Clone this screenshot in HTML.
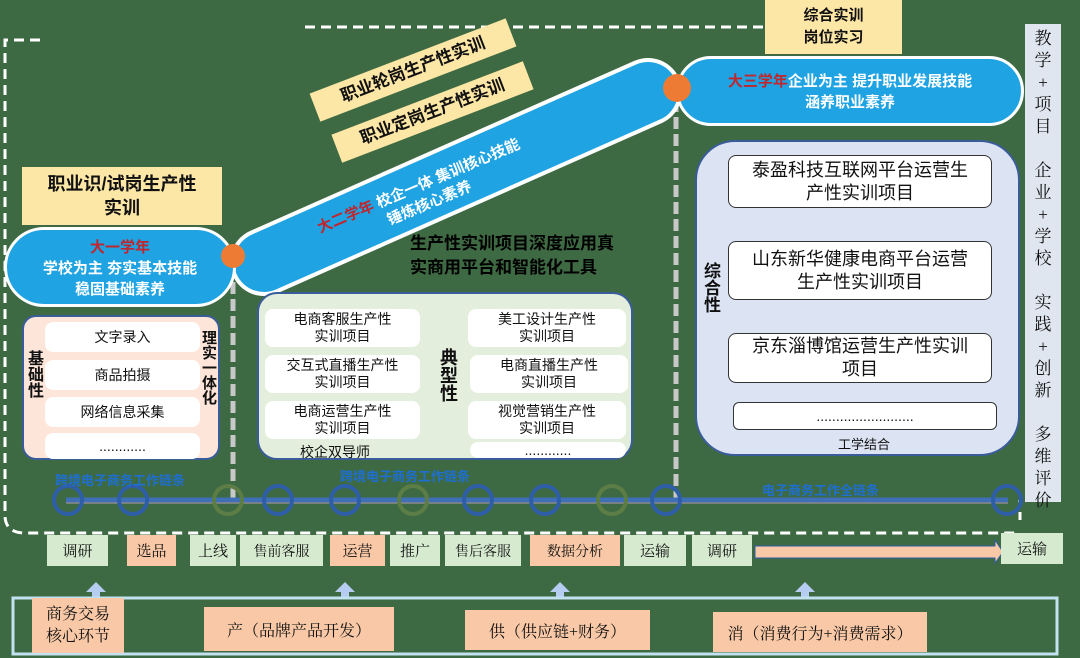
<!DOCTYPE html>
<html><head><meta charset="utf-8">
<style>
*{margin:0;padding:0;box-sizing:border-box}
body{width:1080px;height:658px;background:#3e6a43;position:relative;overflow:hidden;font-family:"Liberation Sans","Noto Sans CJK SC",sans-serif;color:#111}
.a{position:absolute}
.c{display:flex;align-items:center;justify-content:center;text-align:center}
.y{background:#fde7a6;font-weight:bold;font-size:17px;line-height:24px}
.w{background:#fff;border-radius:8px;font-size:14px;line-height:17px}
.serif{font-family:"Liberation Serif","Noto Serif CJK SC",serif}
.lab{font-size:15px;top:535px;height:31px}
.g{background:#d6ead0}.p{background:#f9c9a7}
.vt{writing-mode:vertical-rl;text-orientation:upright}
</style></head><body>
<svg class="a" style="left:0;top:0" width="1080" height="658">
 <path d="M305 27 H765" stroke="#fff" stroke-width="3" stroke-dasharray="10 6" fill="none"/>
 <path d="M40 40 H5 V515 Q5 533 25 533 H1020" stroke="#fff" stroke-width="3" stroke-dasharray="10 6" fill="none"/>
 <path d="M1020 520 V500" stroke="#fff" stroke-width="3" stroke-dasharray="8 6"/>
 <path d="M233 265 V500 M676 100 V500" stroke="#c8c8c8" stroke-width="5" stroke-dasharray="12 5"/>
 <path d="M264 262 L648 92" stroke="#fff" stroke-width="68" stroke-linecap="round"/>
 <path d="M264 262 L648 92" stroke="#1fa3e2" stroke-width="60" stroke-linecap="round"/>
 <path d="M66 500 H1008" stroke="#3f6fb6" stroke-width="5"/>
 <path d="M66 503 H1008" stroke="#8a8a8a" stroke-width="1.5"/>
 <g fill="none" stroke-width="4">
  <circle cx="68" cy="500" r="14" stroke="#2f5ea8"/>
  <circle cx="133" cy="500" r="14" stroke="#2f5ea8"/>
  <circle cx="228" cy="500" r="14" stroke="#5c7d45"/>
  <circle cx="278" cy="500" r="14" stroke="#2f5ea8"/>
  <circle cx="345" cy="500" r="14" stroke="#2f5ea8"/>
  <circle cx="413" cy="500" r="14" stroke="#5c7d45"/>
  <circle cx="478" cy="500" r="14" stroke="#2f5ea8"/>
  <circle cx="545" cy="500" r="14" stroke="#2f5ea8"/>
  <circle cx="612" cy="500" r="14" stroke="#5c7d45"/>
  <circle cx="666" cy="500" r="14" stroke="#2f5ea8"/>
  <circle cx="1007" cy="500" r="14" stroke="#2f5ea8"/>
 </g>
 <path d="M755 546 H995 V540 L1003 552 L995 563 V558 H755 Z" fill="#f9c9a7" stroke="#2f5ea8" stroke-width="1"/>
 <g fill="#b6ccf0">
  <path d="M86 592 H92 V598 H100 V592 H106 L96 582 Z"/>
  <path d="M335 592 H341 V598 H349 V592 H355 L345 582 Z"/>
  <path d="M550 592 H556 V598 H564 V592 H570 L560 582 Z"/>
  <path d="M795 592 H801 V598 H809 V592 H815 L805 582 Z"/>
 </g>
 <rect x="13" y="598" width="1044" height="56" fill="none" stroke="#c3e2ef" stroke-width="3"/>
</svg>

<div class="a c y" style="left:22px;top:167px;width:200px;height:58px;font-size:18px">职业识/试岗生产性<br>实训</div>
<div class="a c y" style="left:765px;top:0;width:137px;height:54px;font-size:15px;line-height:22px">综合实训<br>岗位实习</div>
<div class="a c y" style="left:308px;top:55px;width:210px;height:30px;transform:rotate(-21deg)">职业轮岗生产性实训</div>
<div class="a c y" style="left:330px;top:97px;width:205px;height:30px;transform:rotate(-21deg)">职业定岗生产性实训</div>

<div class="a" style="left:4px;top:227px;width:232px;height:80px;background:#1fa3e2;border:3px solid #fff;border-radius:40px;color:#fff;text-align:center;font-size:15px;line-height:21px;padding-top:7px;font-weight:bold">
 <span style="color:#c0262c">大一学年</span><br>学校为主 夯实基本技能<br>稳固基础素养</div>
<div class="a" style="left:310px;top:158px;width:310px;transform:rotate(-23deg);color:#fff;font-size:15px;line-height:20px;font-weight:bold"><span style="color:#c0262c">大二学年</span> 校企一体 集训核心技能<br>&emsp;&emsp;&emsp;&emsp;&ensp;锤炼核心素养</div>
<div class="a" style="left:676px;top:56px;width:348px;height:70px;background:#1fa3e2;border:3px solid #fff;border-radius:35px;color:#fff;text-align:center;font-size:15px;line-height:21px;padding-top:12px;font-weight:bold"><span style="color:#c0262c">大三学年</span>企业为主 提升职业发展技能<br>涵养职业素养</div>
<div class="a" style="left:221px;top:244px;width:24px;height:24px;border-radius:50%;background:#ee7b33"></div>
<div class="a" style="left:663px;top:74px;width:28px;height:28px;border-radius:50%;background:#ee7b33"></div>

<div class="a" style="left:410px;top:232px;font-size:17px;line-height:24px;font-weight:bold;color:#000">生产性实训项目深度应用真<br>实商用平台和智能化工具</div>

<div class="a" style="left:22px;top:315px;width:198px;height:145px;background:#fde5d9;border:2px solid #3a5c9a;border-radius:14px"></div>
<div class="a vt" style="left:23px;top:350px;font-size:16px;font-weight:bold;line-height:20px">基础性</div>
<div class="a vt" style="left:198px;top:330px;font-size:15px;font-weight:bold;line-height:20px">理实一体化</div>
<div class="a c w" style="left:45px;top:322px;width:155px;height:30px">文字录入</div>
<div class="a c w" style="left:45px;top:360px;width:155px;height:30px">商品拍摄</div>
<div class="a c w" style="left:45px;top:397px;width:155px;height:30px">网络信息采集</div>
<div class="a c w" style="left:45px;top:433px;width:155px;height:26px">............</div>

<div class="a" style="left:257px;top:292px;width:376px;height:168px;background:#e3eedc;border:2px solid #3a5c9a;border-radius:20px"></div>
<div class="a c w" style="left:265px;top:309px;width:155px;height:38px">电商客服生产性<br>实训项目</div>
<div class="a c w" style="left:265px;top:355px;width:155px;height:38px">交互式直播生产性<br>实训项目</div>
<div class="a c w" style="left:265px;top:401px;width:155px;height:38px">电商运营生产性<br>实训项目</div>
<div class="a" style="left:300px;top:442px;font-size:14px">校企双导师</div>
<div class="a vt" style="left:437px;top:348px;font-size:18px;font-weight:bold;line-height:22px">典型性</div>
<div class="a c w" style="left:468px;top:309px;width:158px;height:38px">美工设计生产性<br>实训项目</div>
<div class="a c w" style="left:470px;top:355px;width:158px;height:38px">电商直播生产性<br>实训项目</div>
<div class="a c w" style="left:468px;top:401px;width:158px;height:38px">视觉营销生产性<br>实训项目</div>
<div class="a c w" style="left:470px;top:442px;width:156px;height:16px">............</div>

<div class="a" style="left:695px;top:140px;width:325px;height:316px;background:#dce3f2;border:2px solid #3a5c9a;border-radius:40px"></div>
<div class="a vt" style="left:699px;top:262px;font-size:17px;font-weight:bold;line-height:22px">综合性</div>
<div class="a c" style="left:728px;top:155px;width:264px;height:53px;background:#fff;border:1.5px solid #333;border-radius:8px;font-size:18px;line-height:23px">泰盈科技互联网平台运营生<br>产性实训项目</div>
<div class="a c" style="left:728px;top:241px;width:264px;height:59px;background:#fff;border:1.5px solid #333;border-radius:8px;font-size:18px;line-height:23px">山东新华健康电商平台运营<br>生产性实训项目</div>
<div class="a c" style="left:728px;top:333px;width:264px;height:50px;background:#fff;border:1.5px solid #333;border-radius:8px;font-size:18px;line-height:23px">京东淄博馆运营生产性实训<br>项目</div>
<div class="a c" style="left:733px;top:402px;width:264px;height:28px;background:#fff;border:1.5px solid #333;border-radius:6px;font-size:14px">.........................</div>
<div class="a" style="left:838px;top:434px;font-size:13px">工学结合</div>

<div class="a serif" style="left:1025px;top:24px;width:36px;height:478px;background:#dfe6f0;text-align:center;font-size:17px;line-height:22px;padding-top:4px">教<br>学<br>+<br>项<br>目<br><br>企<br>业<br>+<br>学<br>校<br><br>实<br>践<br>+<br>创<br>新<br><br>多<br>维<br>评<br>价</div>

<div class="a" style="left:55px;top:470px;font-size:13px;font-weight:bold;color:#1e6fd0">跨境电子商务工作链条</div>
<div class="a" style="left:340px;top:466px;font-size:13px;font-weight:bold;color:#1e6fd0">跨境电子商务工作链条</div>
<div class="a" style="left:762px;top:480px;font-size:13px;font-weight:bold;color:#1e6fd0">电子商务工作全链条</div>

<div class="a c serif lab g" style="left:47px;width:61px">调研</div>
<div class="a c serif lab p" style="left:127px;width:49px">选品</div>
<div class="a c serif lab g" style="left:190px;width:46px">上线</div>
<div class="a c serif lab g" style="left:240px;width:83px;font-size:14px">售前客服</div>
<div class="a c serif lab p" style="left:330px;width:55px">运营</div>
<div class="a c serif lab g" style="left:390px;width:50px">推广</div>
<div class="a c serif lab g" style="left:445px;width:76px;font-size:14px">售后客服</div>
<div class="a c serif lab p" style="left:530px;width:90px;font-size:14px">数据分析</div>
<div class="a c serif lab g" style="left:624px;width:62px">运输</div>
<div class="a c serif lab g" style="left:692px;width:60px">调研</div>
<div class="a c serif lab g" style="left:1001px;width:62px;top:533px">运输</div>

<div class="a c serif p" style="left:32px;top:598px;width:92px;height:55px;font-size:16px;line-height:22px">商务交易<br>核心环节</div>
<div class="a c serif p" style="left:204px;top:607px;width:190px;height:44px;font-size:16px">产（品牌产品开发）</div>
<div class="a c serif p" style="left:465px;top:610px;width:185px;height:40px;font-size:16px">供（供应链+财务）</div>
<div class="a c serif p" style="left:713px;top:612px;width:214px;height:40px;font-size:16px">消（消费行为+消费需求）</div>
</body></html>
